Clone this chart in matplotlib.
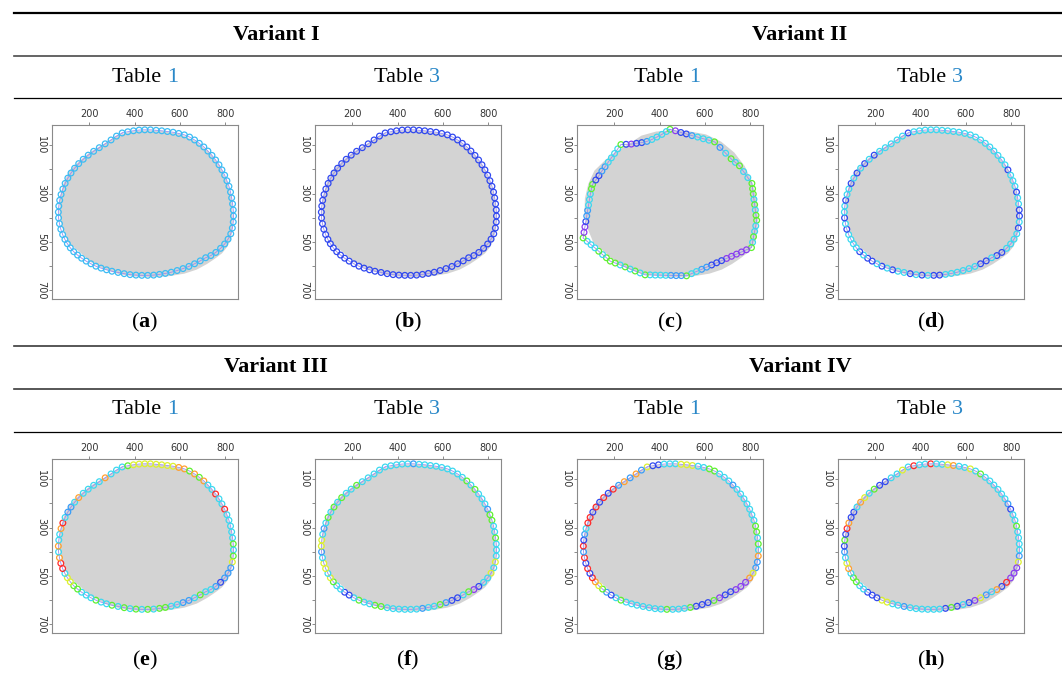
import matplotlib
matplotlib.use("Agg")
import matplotlib.pyplot as plt
from matplotlib.lines import Line2D

plt.rcParams['mathtext.fontset'] = 'custom'
plt.rcParams['mathtext.rm'] = 'Liberation Serif'
plt.rcParams['mathtext.bf'] = 'Liberation Serif:bold'

# ---------------- data ----------------
VARIANTS = ["Variant I", "Variant II", "Variant III", "Variant IV"]
TABLE_NUMS = ["1", "3", "1", "3", "1", "3", "1", "3"]
PANEL_LABELS = ["a", "b", "c", "d", "e", "f", "g", "h"]

X_TICKS = [200, 400, 600, 800]
Y_TICKS = [100, 200, 300, 400, 500, 600, 700]
Y_LABELED = [100, 300, 500, 700]

# grey object silhouette
GRAY_X = [455, 530, 605, 672, 730, 776, 808, 828, 834, 832, 826, 810, 786, 755, 720, 675, 620, 555,
          480, 405, 335, 270, 208, 158, 108, 82, 68, 70, 85, 112, 158, 205, 262, 320, 385]
GRAY_Y = [38, 42, 55, 85, 130, 186, 250, 320, 395, 450, 490, 520, 548, 570, 592, 615, 632, 642,
          646, 644, 635, 615, 585, 543, 505, 445, 385, 320, 260, 205, 163, 127, 96, 60, 43]

# contour points (panels a, b, d, e, f, g, h)
BASE_X = [345, 370, 395, 420, 445, 470, 495, 520, 545, 570, 595,
          620, 643, 665, 686, 706, 724, 742, 758, 773, 786, 798, 808, 817, 824, 829, 833, 836, 837, 836, 832, 825,
          813, 798, 780, 759, 737, 714, 690, 665, 640, 614, 588, 562, 536, 510, 484, 458, 432, 406, 380, 354, 327,
          300, 276, 252, 229, 207, 186, 166, 148, 131, 116, 103, 92, 82, 74, 68, 64, 63,
          65, 69, 75, 83, 93, 105, 119, 135, 153, 173, 195, 219, 244, 270, 296, 320]
BASE_Y = [49, 44, 40, 37, 36, 36, 38, 40, 43, 46, 51,
          57, 66, 78, 92, 107, 124, 142, 161, 181, 202, 224, 247, 270, 294, 318, 343, 368, 393, 418, 443, 467,
          489, 509, 527, 544, 557, 566, 579, 591, 602, 611, 619, 626, 631, 635, 638, 639, 639, 638, 636, 632, 627,
          622, 616, 609, 601, 591, 580, 568, 555, 541, 525, 508, 490, 470, 448, 425, 401, 377,
          352, 328, 304, 281, 258, 236, 215, 195, 176, 158, 141, 125, 110, 94, 78, 62]

# contour points of panel c (polygonal estimate)
C_X = [446, 470, 494, 518, 543, 568, 593, 618, 643, 667, 692, 716, 735, 753, 771, 790, 808,
       811, 814, 817, 820, 823, 826, 829, 825, 820, 815, 811, 806,
       784, 762, 740, 718, 696, 674, 652, 630, 608, 586, 563, 541, 519,
       496, 473, 450, 427, 404, 381, 358, 336, 314, 292, 270, 248, 226, 204, 182,
       165, 148, 131, 114, 97, 80, 62, 66, 70, 74, 78, 82, 86, 90, 94, 99, 104,
       118, 132, 145, 159, 173, 187, 201, 215, 229, 252, 275, 298, 321, 344, 366, 388, 410, 430]
C_Y = [34, 40, 47, 53, 60, 66, 73, 79, 86, 109, 133, 156, 171, 185, 209, 234, 258,
       280, 302, 324, 346, 368, 390, 411, 434, 457, 479, 502, 524,
       533, 542, 551, 560, 569, 578, 587, 596, 605, 614, 623, 632, 641,
       640, 640, 639, 639, 638, 638, 637, 637, 629, 621, 613, 604, 596, 588, 580,
       566, 553, 539, 525, 512, 498, 484, 461, 438, 416, 393, 370, 348, 325, 302, 280, 262,
       244, 226, 207, 189, 170, 152, 134, 115, 97, 96, 95, 92, 89, 84, 76, 66, 55, 43]

# colour codes of the rings, one per contour point
CODES = {
    "a": "s",
    "b": "b",
    "c": "gpbblcccg" "lcg" "cg" "ccg" "ggcgcgg" "ccgcg" "pppppbbbllccg" "lllccccg" "cgcgcgg"
         "gcgcccg" "ppbllcccgg" "bbllccccg" "bpbblcccc",
    "d": "bcccccccccc" "cccccccccbcccbccbbcbc" "cccbbcbbccccccbbcbcbc" "cbcbcbbcbccccbcbc" "cbccbcbcbcbccccc",
    "e": "cgyyyyyyyyo" "ogogoccrccrcccccgcgyl" "llblccgcllccggcgcgcgc" "gccgcccggyycrroco" "ccorcllcoccccocc",
    "f": "ccccclccccc" "ccccgcgccclggccgcccyc" "yccbpgcbblgcclccccccg" "gccgcbbccgycyycly" "yclcgcgcgccgcccc",
    "g": "ybbcccyyycc" "ggccclcccccccggcgcoll" "yopppbbpgbbbgcccgcccc" "cccgcblgyorbrbrlr" "blcrrbrbrbrlolol",
    "h": "crccrccyocc" "ycgcccccclbccgcccclyp" "pprboclypbcbgbccccccl" "ccyybbbccggcoyclb" "gbrobbcoycgbbccy",
}
PALETTE = {"r": "#ff2a2a", "o": "#ffa030", "y": "#dcf030", "g": "#5ef030", "c": "#3cd8f0",
           "s": "#3cbcf4", "l": "#3a9ef8", "b": "#3048f0", "p": "#8a3ef0"}

# ---------------- figure ----------------
W, H = 1062, 674
fig = plt.figure(figsize=(W / 100, H / 100), dpi=100)


def fx(px):
    return px / W


def fy(py):
    return 1 - py / H


SERIF = "Liberation Serif"
BLUE = "#2a88c8"

# rules
for y, lw, col in [(13, 1.6, "black"), (56, 1.2, "#4a4a4a"), (98, 0.9, "black"),
                   (346, 1.2, "#3a3a3a"), (389, 1.2, "#3a3a3a"), (432, 0.9, "black")]:
    fig.add_artist(Line2D([fx(14), 1.0], [fy(y), fy(y)], transform=fig.transFigure, color=col, lw=lw))

# variant headers
for i, name in enumerate(VARIANTS):
    cx = [276, 800][i % 2]
    cy = [35, 367][i // 2]
    fig.text(fx(cx), fy(cy), name, ha="center", va="center", fontsize=16, fontweight="bold", family=SERIF)

# table headers (black word + blue number)
renderer = fig.canvas.get_renderer()
TABLE_CX = [145, 407, 667, 930]
for k, num in enumerate(TABLE_NUMS):
    cx = TABLE_CX[k % 4]
    cy = [77, 410][k // 4]
    full = fig.text(0, fy(cy), "Table " + num, fontsize=16, family=SERIF, va="center")
    wfull = full.get_window_extent(renderer).width
    numt = fig.text(0, fy(cy), num, fontsize=16, family=SERIF, va="center", color=BLUE)
    wnum = numt.get_window_extent(renderer).width
    full.remove()
    x0 = cx - wfull / 2
    fig.text(fx(x0), fy(cy), "Table ", fontsize=16, family=SERIF, va="center")
    numt.set_x(fx(x0 + wfull - wnum))

# panels
COL_LEFT = [52, 315, 577, 838]
ROW_TOP = [125, 459]
AW, AH = 186, 174
LABEL_Y = [322, 660]

for k, lab in enumerate(PANEL_LABELS):
    r, c = k // 4, k % 4
    left, top = COL_LEFT[c], ROW_TOP[r]
    ax = fig.add_axes([fx(left), fy(top + AH), AW / W, AH / H])
    ax.fill(GRAY_X, GRAY_Y, color="#d3d3d3", lw=0, zorder=1)
    if lab == "c":
        xs, ys = C_X, C_Y
    else:
        xs, ys = BASE_X, BASE_Y
    codes = CODES[lab]
    n = len(xs)
    if len(codes) == 1:
        codes = codes * n
    codes = (codes + codes[-1] * n)[:n]
    cols = [PALETTE[ch] for ch in codes]
    ax.plot(list(xs) + [xs[0]], list(ys) + [ys[0]], color="#9a8cf0", lw=0.6, zorder=2)
    ax.scatter(xs, ys, s=17, facecolors="none", edgecolors=cols, linewidths=0.9, zorder=3)
    ax.set_xlim(35, 857)
    ax.set_ylim(737, 16)
    ax.xaxis.tick_top()
    ax.set_xticks(X_TICKS)
    ax.set_xticklabels([str(v) for v in X_TICKS])
    ax.set_yticks(Y_TICKS)
    ax.set_yticklabels([str(v) if v in Y_LABELED else "" for v in Y_TICKS], rotation=270, va="center")
    ax.tick_params(axis="both", length=2.5, width=0.6, color="#777777", labelsize=7,
                   labelcolor="#333333", pad=1.5)
    for sp in ax.spines.values():
        sp.set_color("#8a8a8a")
        sp.set_linewidth(0.8)
    fig.text(fx(left + AW / 2), fy(LABEL_Y[r]), r"$(\mathbf{%s})$" % lab, ha="center", va="center",
             fontsize=16)

fig.savefig("out.png", dpi=100)
